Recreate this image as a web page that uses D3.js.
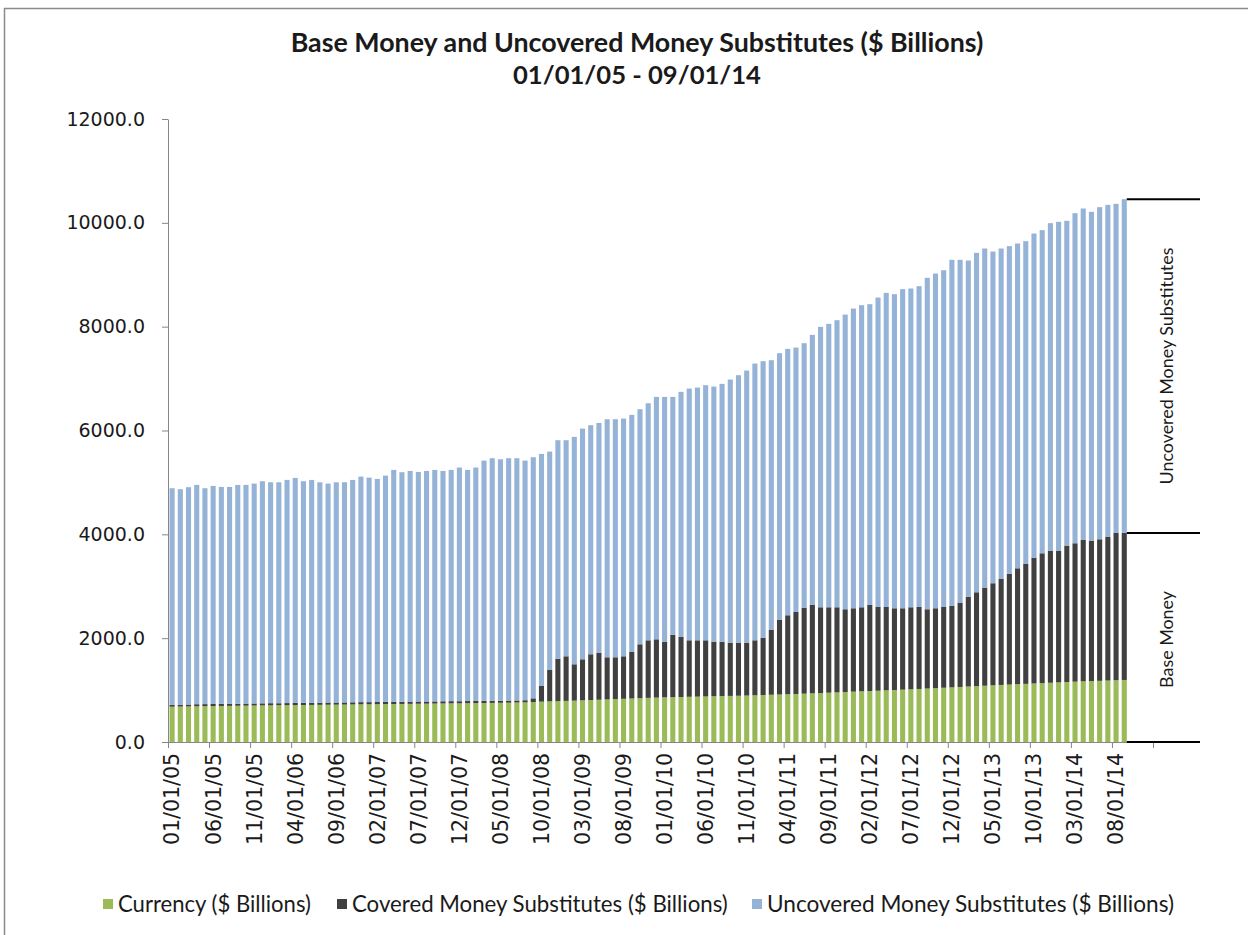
<!DOCTYPE html>
<html>
<head>
<meta charset="utf-8">
<script src="https://cdn.jsdelivr.net/npm/d3@7"></script>
<style>
  body { margin: 0; background: #fff; }
</style>
</head>
<body>
<svg id="chart" width="1248" height="935"></svg>
<script>
// monthly values, 01/01/05 .. 09/01/14 ($ billions)
const currency = [
  680, 683, 685, 687, 690, 692, 694, 696, 698, 700,
  702, 704, 706, 707, 709, 711, 713, 714, 716, 718,
  719, 721, 723, 725, 726, 728, 730, 731, 733, 735,
  737, 738, 740, 742, 744, 745, 747, 749, 751, 753,
  755, 757, 760, 763, 768, 777, 783, 788, 792, 796,
  802, 808, 814, 820, 826, 832, 838, 844, 850, 855,
  860, 864, 867, 871, 874, 877, 881, 884, 888, 891,
  895, 900, 905, 910, 915, 920, 925, 931, 937, 944,
  950, 956, 962, 970, 976, 982, 988, 996, 1002, 1008,
  1015, 1022, 1030, 1037, 1045, 1052, 1060, 1068, 1076, 1084,
  1092, 1099, 1106, 1113, 1120, 1127, 1134, 1141, 1148, 1155,
  1162, 1168, 1173, 1178, 1184, 1190, 1195
];
// currency + covered money substitutes (top of the dark bars)
const baseMoney = [
  718, 720, 722, 728, 730, 733, 735, 734, 737, 740,
  742, 745, 748, 747, 750, 752, 755, 754, 757, 760,
  760, 762, 765, 768, 768, 770, 773, 772, 775, 778,
  780, 780, 782, 785, 787, 786, 789, 790, 792, 794,
  795, 797, 800, 805, 841, 1079, 1387, 1605, 1651, 1497,
  1593, 1690, 1715, 1632, 1632, 1651, 1734, 1882, 1959, 1978,
  1933, 2062, 2023, 1959, 1959, 1959, 1933, 1933, 1914, 1914,
  1914, 1959, 2010, 2158, 2357, 2441, 2505, 2588, 2646, 2595,
  2595, 2595, 2557, 2576, 2595, 2640, 2601, 2601, 2576, 2576,
  2595, 2601, 2557, 2576, 2601, 2620, 2685, 2794, 2884, 2974,
  3058, 3147, 3237, 3346, 3436, 3551, 3635, 3680, 3680, 3783,
  3828, 3892, 3879, 3905, 3956, 4033, 4028
];
// base money + uncovered money substitutes (top of the blue bars)
const totalMoney = [
  4888, 4869, 4908, 4952, 4888, 4933, 4913, 4913, 4952, 4952,
  4977, 5023, 5003, 5003, 5048, 5087, 5023, 5048, 5003, 4977,
  5003, 5003, 5048, 5112, 5093, 5067, 5131, 5241, 5196, 5221,
  5202, 5221, 5241, 5221, 5241, 5286, 5241, 5286, 5420, 5466,
  5446, 5466, 5466, 5420, 5485, 5549, 5594, 5813, 5813, 5877,
  6037, 6102, 6146, 6217, 6217, 6230, 6301, 6410, 6525, 6647,
  6647, 6647, 6744, 6808, 6827, 6872, 6846, 6898, 6981, 7065,
  7155, 7289, 7335, 7354, 7489, 7572, 7597, 7682, 7842, 7996,
  8054, 8125, 8233, 8349, 8414, 8433, 8561, 8651, 8626, 8722,
  8735, 8780, 8940, 9023, 9087, 9287, 9287, 9274, 9422, 9505,
  9447, 9505, 9551, 9602, 9647, 9794, 9859, 9994, 10019, 10039,
  10186, 10276, 10212, 10302, 10347, 10366, 10456
];

const seriesNames = ["Currency ($ Billions)", "Covered Money Substitutes ($ Billions)", "Uncovered Money Substitutes ($ Billions)"];
const seriesColors = ["#9bbb59", "#404040", "#95b3d7"];
const yTicks = [0, 2000, 4000, 6000, 8000, 10000, 12000];
const bracketNames = ["Uncovered Money Substitutes", "Base Money"];

// category labels, one per month
const months = d3.timeMonth.range(new Date(2005, 0, 1), new Date(2014, 9, 1));
const categories = months.map(d3.timeFormat("%m/%d/%y"));
const nSlots = 120; // axis runs 3 empty slots past the last month

const rows = categories.map((c, i) => ({
  idx: i,
  currency: currency[i],
  covered: baseMoney[i] - currency[i],
  uncovered: totalMoney[i] - baseMoney[i]
}));

const svg = d3.select("#chart");
const plotLeft = 168, plotRight = 1153, plotTop = 119, plotBottom = 742;
const axisColor = "#868686";
const tickFont = "DejaVu Sans, Verdana, sans-serif";
const textFont = "Lato, 'Open Sans', sans-serif";

// outer frame
svg.append("rect")
  .attr("x", 4.5).attr("y", 8.5)
  .attr("width", 1300).attr("height", 1000)
  .attr("fill", "none").attr("stroke", "#8a8a8a").attr("stroke-width", 1.5);

const x = d3.scaleBand()
  .domain(d3.range(nSlots))
  .range([plotLeft, plotRight])
  .paddingInner(0.38)
  .paddingOuter(0.19);
const xEdge = d3.scaleLinear().domain([0, nSlots]).range([plotLeft, plotRight]);
const y = d3.scaleLinear().domain([0, 12000]).range([plotBottom, plotTop]);

// fit a text node to a target width by scaling its font size
function fit(sel, width) {
  const size = parseFloat(sel.attr("font-size"));
  const w = sel.node().getComputedTextLength();
  sel.attr("font-size", size * width / w);
}

// title
const t1 = svg.append("text").attr("x", 637).attr("y", 52)
  .attr("text-anchor", "middle").attr("font-family", textFont)
  .attr("font-weight", "bold").attr("font-size", 22).attr("fill", "#1a1a1a")
  .text("Base Money and Uncovered Money Substitutes ($ Billions)");
fit(t1, 693);
const t2 = svg.append("text").attr("x", 637).attr("y", 84)
  .attr("text-anchor", "middle").attr("font-family", textFont)
  .attr("font-weight", "bold").attr("font-size", 22).attr("fill", "#1a1a1a")
  .text("01/01/05 - 09/01/14");
fit(t2, 248);

// bars
const stack = d3.stack().keys(["currency", "covered", "uncovered"]);
const layers = stack(rows);

svg.append("g").selectAll("g")
  .data(layers)
  .join("g")
    .attr("fill", (d, i) => seriesColors[i])
  .selectAll("rect")
  .data(d => d)
  .join("rect")
    .attr("x", d => x(d.data.idx))
    .attr("width", x.bandwidth())
    .attr("y", d => y(d[1]))
    .attr("height", d => y(d[0]) - y(d[1]));

// y axis
const yAxis = svg.append("g")
  .attr("transform", "translate(" + plotLeft + ",0)")
  .call(d3.axisLeft(y).tickValues(yTicks).tickFormat(d => d.toFixed(1)).tickSize(6).tickSizeOuter(0).tickPadding(17));
yAxis.selectAll("line, path").attr("stroke", axisColor);
yAxis.selectAll("text").attr("font-family", tickFont).attr("font-size", 19).attr("fill", "#1a1a1a");

// x axis: tick marks on category edges
const xAxis = svg.append("g")
  .attr("transform", "translate(0," + plotBottom + ")")
  .call(d3.axisBottom(xEdge).tickValues(d3.range(0, nSlots + 1, 5)).tickFormat("").tickSize(6).tickSizeOuter(0));
xAxis.selectAll("line, path").attr("stroke", axisColor);

// x labels every 5th month, rotated
const xLabels = svg.append("g")
  .attr("transform", "translate(0," + plotBottom + ")")
  .call(d3.axisBottom(x)
    .tickValues(d3.range(0, categories.length, 5))
    .tickFormat(i => categories[i])
    .tickSize(0));
xLabels.select(".domain").remove();
xLabels.selectAll("text")
  .attr("font-family", tickFont).attr("font-size", 20.5).attr("fill", "#1a1a1a")
  .attr("transform", "rotate(-90)")
  .attr("text-anchor", "end")
  .attr("x", -11).attr("y", 0).attr("dy", "0.36em");

// bracket on the right: total, base money, zero
const last = categories.length - 1;
const bx0 = x(last) + x.bandwidth(), bx1 = 1200;
[totalMoney[last], baseMoney[last], 0].forEach(v => {
  svg.append("line")
    .attr("x1", bx0).attr("x2", bx1)
    .attr("y1", y(v)).attr("y2", y(v))
    .attr("stroke", "#000").attr("stroke-width", 2);
});
const bracketMids = [
  (y(totalMoney[last]) + y(baseMoney[last])) / 2,
  (y(baseMoney[last]) + y(0)) / 2 + 2
];
const bracketWidths = [237, 97];
bracketNames.forEach((name, i) => {
  const t = svg.append("text")
    .attr("transform", "translate(1167," + bracketMids[i] + ") rotate(-90)")
    .attr("text-anchor", "middle").attr("dy", "0.35em")
    .attr("font-family", textFont).attr("font-size", 15).attr("fill", "#1a1a1a")
    .text(name);
  fit(t, bracketWidths[i]);
});

// legend
const legendX = [103, 337, 752];
const legendW = [193, 376, 407];
const legend = svg.append("g").attr("transform", "translate(0,904)");
seriesNames.forEach((name, i) => {
  legend.append("rect")
    .attr("x", legendX[i]).attr("y", -5)
    .attr("width", 10).attr("height", 10)
    .attr("fill", seriesColors[i]);
  const t = legend.append("text")
    .attr("x", legendX[i] + 15).attr("y", 0).attr("dy", "0.35em")
    .attr("font-family", textFont).attr("font-size", 19).attr("fill", "#1a1a1a")
    .text(name);
  fit(t, legendW[i]);
});
</script>
</body>
</html>
